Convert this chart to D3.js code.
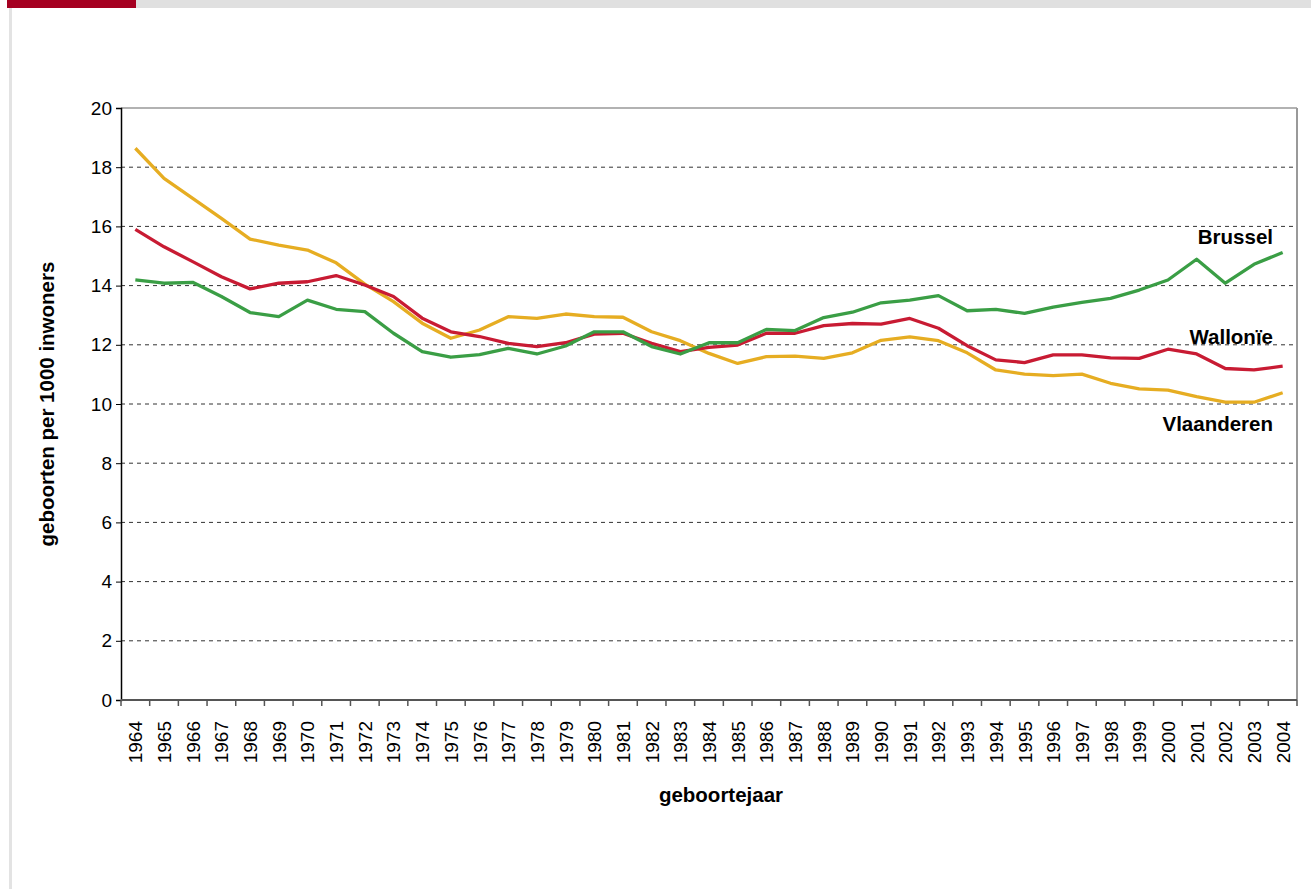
<!DOCTYPE html>
<meta charset="utf-8">
<script src="https://d3js.org/d3.v7.min.js"></script>
<style type="text/css">
    body { margin: 0; background: #fff; font-family: "Liberation Sans", Arial, sans-serif; }
    .grid line { stroke: #333; stroke-dasharray: 4,4; }
    .axis text { font-size: 19px; fill: #000; }
    .label { font-size: 20.5px; font-weight: bold; }
</style>
<body></body>
<script>

// data
var years = d3.range(1964, 2005).map(String);
var yTicks = [0, 2, 4, 6, 8, 10, 12, 14, 16, 18, 20];

var vlaanderen = [18.64, 17.62, 16.95, 16.27, 15.57, 15.37, 15.2, 14.77, 14.05, 13.46,
    12.73, 12.22, 12.5, 12.95, 12.89, 13.04, 12.95, 12.93, 12.44, 12.14,
    11.71, 11.37, 11.6, 11.62, 11.54, 11.73, 12.15, 12.27, 12.14, 11.73,
    11.15, 11.01, 10.96, 11.01, 10.7, 10.51, 10.47, 10.25, 10.06, 10.06, 10.38];

var wallonie = [15.9, 15.31, 14.81, 14.3, 13.89, 14.08, 14.13, 14.34, 14.02, 13.63,
    12.9, 12.44, 12.28, 12.05, 11.94, 12.07, 12.36, 12.39, 12.05, 11.77,
    11.91, 11.99, 12.39, 12.39, 12.65, 12.72, 12.7, 12.89, 12.56, 11.97,
    11.49, 11.4, 11.66, 11.66, 11.56, 11.54, 11.85, 11.69, 11.2, 11.15, 11.28];

var brussel = [14.19, 14.08, 14.11, 13.63, 13.09, 12.95, 13.51, 13.2, 13.12, 12.39,
    11.77, 11.58, 11.67, 11.88, 11.69, 11.96, 12.44, 12.44, 11.94, 11.69,
    12.07, 12.07, 12.52, 12.48, 12.92, 13.1, 13.42, 13.51, 13.66, 13.15,
    13.2, 13.06, 13.27, 13.43, 13.57, 13.85, 14.19, 14.89, 14.08, 14.72, 15.12];

var series = [
    {name: "Vlaanderen", values: vlaanderen, color: "#E6AD22"},
    {name: "Wallonïe", values: wallonie, color: "#C81B33"},
    {name: "Brussel", values: brussel, color: "#3A9E45"}
];

var margin = {top: 108, right: 14, bottom: 189, left: 121};
var width = 1311 - margin.left - margin.right;
var height = 889 - margin.top - margin.bottom;

var root = d3.select("body").append("svg")
    .attr("width", 1311)
    .attr("height", 889);

// page decoration: banner and left border
root.append("rect").attr("x", 7).attr("y", 0).attr("width", 129).attr("height", 8).attr("fill", "#A50021");
root.append("rect").attr("x", 136).attr("y", 0).attr("width", 1175).attr("height", 8).attr("fill", "#E0E0E0");
root.append("rect").attr("x", 9).attr("y", 8).attr("width", 3).attr("height", 881).attr("fill", "#E3E3E3");

var svg = root.append("g")
    .attr("transform", "translate(" + margin.left + "," + margin.top + ")");

var xScale = d3.scaleBand()
    .domain(years)
    .range([0, width]);

var yScale = d3.scaleLinear()
    .domain([0, 20])
    .range([height, 0]);

// gridlines
svg.append("g")
    .attr("class", "grid")
    .selectAll("line")
    .data(yTicks.filter(function(d) { return d > 0 && d < 20; }))
    .enter()
    .append("line")
    .attr("x1", 0)
    .attr("x2", width)
    .attr("y1", function(d) { return yScale(d); })
    .attr("y2", function(d) { return yScale(d); });

// top and right frame
svg.append("line").attr("x1", 0).attr("x2", width).attr("y1", 0).attr("y2", 0)
    .attr("stroke", "#999").attr("stroke-width", 1.5);
svg.append("line").attr("x1", width).attr("x2", width).attr("y1", 0).attr("y2", height)
    .attr("stroke", "#999").attr("stroke-width", 2);

// y axis
var yAxisGroup = svg.append("g")
    .attr("class", "y axis")
    .call(d3.axisLeft(yScale).tickValues(yTicks).tickSize(5).tickPadding(4));
yAxisGroup.select(".domain").attr("stroke", "#000").attr("stroke-width", 1.5);
yAxisGroup.selectAll("text").style("font-family", "Liberation Sans, Arial, sans-serif");

// x axis: ticks on band boundaries
var xAxisGroup = svg.append("g")
    .attr("class", "x axis")
    .attr("transform", "translate(0," + height + ")");

xAxisGroup.append("line")
    .attr("x1", 0).attr("x2", width)
    .attr("stroke", "#555").attr("stroke-width", 2);

xAxisGroup.selectAll(".tick-mark")
    .data(years.concat(["end"]))
    .enter()
    .append("line")
    .attr("class", "tick-mark")
    .attr("x1", function(d, i) { return i * xScale.step(); })
    .attr("x2", function(d, i) { return i * xScale.step(); })
    .attr("y1", 0).attr("y2", 6)
    .attr("stroke", "#555").attr("stroke-width", 1.5);

xAxisGroup.selectAll(".year")
    .data(years)
    .enter()
    .append("text")
    .attr("class", "year")
    .attr("transform", function(d) {
        return "translate(" + (xScale(d) + xScale.bandwidth() / 2 + 7) + ",21) rotate(-90)";
    })
    .style("text-anchor", "end")
    .style("font-family", "Liberation Sans, Arial, sans-serif")
    .text(function(d) { return d; });

// axis titles
svg.append("text")
    .attr("x", width / 2 + 12)
    .attr("y", height + 102)
    .attr("text-anchor", "middle")
    .style("font-size", "20.5px")
    .style("font-weight", "bold")
    .text("geboortejaar");

svg.append("text")
    .attr("transform", "translate(-67," + (height / 2) + ") rotate(-90)")
    .attr("text-anchor", "middle")
    .style("font-size", "20.5px")
    .style("font-weight", "bold")
    .text("geboorten per 1000 inwoners");

// lines
var line = d3.line()
    .x(function(d, i) { return xScale(years[i]) + xScale.bandwidth() / 2; })
    .y(function(d) { return yScale(d); });

svg.selectAll(".series")
    .data(series)
    .enter()
    .append("path")
    .attr("class", "series")
    .attr("fill", "none")
    .attr("stroke", function(d) { return d.color; })
    .attr("stroke-width", 3.3)
    .attr("stroke-linejoin", "round")
    .attr("d", function(d) { return line(d.values); });

// series labels
var labels = [
    {text: "Brussel", y: 237},
    {text: "Wallonïe", y: 337},
    {text: "Vlaanderen", y: 424}
];

root.selectAll(".label")
    .data(labels)
    .enter()
    .append("text")
    .attr("class", "label")
    .attr("x", 1273)
    .attr("y", function(d) { return d.y; })
    .attr("dy", "0.35em")
    .attr("text-anchor", "end")
    .text(function(d) { return d.text; });

</script>
